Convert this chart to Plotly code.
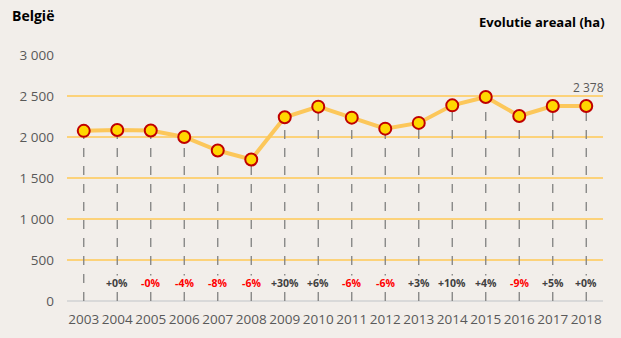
import plotly.graph_objects as go

years = [2003, 2004, 2005, 2006, 2007, 2008, 2009, 2010, 2011, 2012, 2013, 2014, 2015, 2016, 2017, 2018]
area = [2075, 2085, 2080, 2000, 1835, 1725, 2240, 2370, 2236, 2102, 2172, 2386, 2488, 2256, 2378, 2378]
changes = ["", "+0%", "-0%", "-4%", "-8%", "-6%", "+30%", "+6%", "-6%", "-6%", "+3%", "+10%", "+4%", "-9%", "+5%", "+0%"]
y_ticks = [0, 500, 1000, 1500, 2000, 2500, 3000]
y_tick_labels = ["0", "500", "1 000", "1 500", "2 000", "2 500", "3 000"]
label_level = 220

drop_x, drop_y = [], []
for x, v in zip(years, area):
    drop_x += [x, x, None]
    drop_y += [0, v, None]

fig = go.Figure()
fig.add_trace(go.Scatter(x=drop_x, y=drop_y, mode="lines",
                         line=dict(color="#808080", width=1.3, dash="dash"),
                         hoverinfo="skip", showlegend=False))
fig.add_trace(go.Scatter(x=years, y=area, mode="lines+markers",
                         line=dict(color="#fcc75a", width=4),
                         marker=dict(size=12, color="#ffd700",
                                     line=dict(color="#c00000", width=2)),
                         showlegend=False))
for x, c in zip(years, changes):
    if not c:
        continue
    col = "#ff0000" if c.startswith("-") else "#404040"
    fig.add_annotation(x=x, y=label_level, text="<b>" + c + "</b>", showarrow=False,
                       xanchor="center", yanchor="middle", bgcolor="#f2eeea", borderpad=0,
                       font=dict(family="Open Sans", size=10.5, color=col))
fig.add_annotation(x=years[-1], y=area[-1], text="2 378", showarrow=False,
                   xanchor="center", yanchor="bottom", yshift=8, xshift=2,
                   font=dict(family="Open Sans", size=12, color="#595959"))

fig.add_annotation(xref="paper", yref="paper", x=-0.106, y=1.159, text="<b>België</b>",
                   showarrow=False, xanchor="left", yanchor="middle",
                   font=dict(family="Open Sans", size=14, color="#000000"))
fig.add_annotation(xref="paper", yref="paper", x=1.008, y=1.134, text="<b>Evolutie areaal (ha)</b>",
                   showarrow=False, xanchor="right", yanchor="middle",
                   font=dict(family="Open Sans", size=13, color="#000000"))

fig.update_layout(
    width=621, height=338,
    margin=dict(l=67, r=18, t=55, b=37),
    paper_bgcolor="#f2eeea", plot_bgcolor="#f2eeea",
    xaxis=dict(range=[2002.5, 2018.5], tickmode="array", tickvals=years,
               ticktext=[str(y) for y in years], showgrid=False, zeroline=False,
               showline=False, ticks="", ticklabelstandoff=8, automargin=False,
               tickfont=dict(family="Open Sans", size=13.5, color="#595959")),
    yaxis=dict(range=[0, 3000], tickmode="array", tickvals=y_ticks, ticktext=y_tick_labels,
               showgrid=True, gridcolor="#fcd27a", gridwidth=1.5, zeroline=True,
               zerolinecolor="#d9d9d9", zerolinewidth=2, showline=False, ticks="",
               ticklabelstandoff=12, automargin=False,
               tickfont=dict(family="Open Sans", size=13.5, color="#595959")),
)
fig.write_html("out.html")
